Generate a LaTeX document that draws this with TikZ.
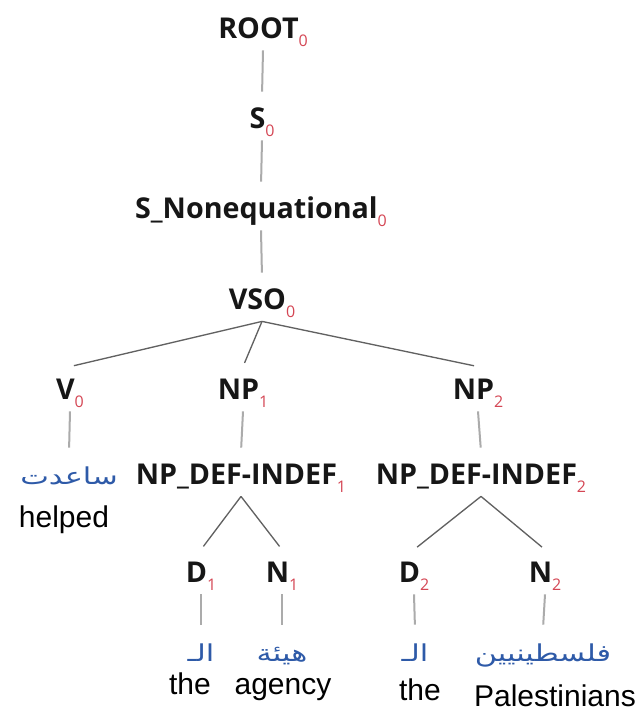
\documentclass[tikz,border=0pt]{standalone}
\usepackage{fontspec}
\setmainfont{Liberation Sans}
\newfontfamily\catfont{Open Sans}
\newfontfamily\arabicfont[Script=Arabic]{DejaVu Sans}
\TeXXeTstate=1
\usetikzlibrary{positioning}
\definecolor{idxred}{RGB}{212,70,84}
\definecolor{arblue}{RGB}{46,90,168}
\definecolor{catblack}{RGB}{22,22,22}
\newcommand{\cat}[2]{{\catfont\bfseries\fontsize{21.5}{25}\selectfont #1}\raisebox{-6pt}{\catfont\fontsize{12}{12}\selectfont\color{idxred}#2}}
\newcommand{\arw}[1]{\scalebox{1.2}[0.92]{\arabicfont\fontsize{19}{22}\selectfont\color{arblue}\beginR #1\endR}}

\begin{document}
\begin{tikzpicture}[x=0.75pt,y=-0.75pt,
  lab/.style={inner xsep=0pt,inner ysep=9pt,text height=15.2pt,text depth=0pt,text=catblack},
  gloss/.style={anchor=base,inner sep=0pt,font=\fontsize{22.5}{26}\selectfont},
  stem/.style={draw=black!33,line width=1.5pt,shorten >=3pt},
  branch/.style={draw=black!62,line width=1pt,shorten >=3pt}
]
\useasboundingbox (0,0) rectangle (639,714);

% spine
\node[lab] (root) at (263,28) {\cat{ROOT}{0}};
\node[lab] (s) at (262,118) {\cat{S}{0}};
\node[lab] (snoneq) at (261,208) {\cat{S\_Nonequational}{0}};
\node[lab] (vso) at (262,299) {\cat{VSO}{0}};

% verb and arguments
\node[lab] (v) at (70,389) {\cat{V}{0}};
\node[lab] (np1) at (243,389) {\cat{NP}{1}};
\node[lab] (np2) at (478,389) {\cat{NP}{2}};
\node[lab] (helpedar) at (69,474) {\arw{ساعدت}};
\node[lab] (npdi1) at (241,474) {\cat{NP\_DEF-INDEF}{1}};
\node[lab] (npdi2) at (481,474) {\cat{NP\_DEF-INDEF}{2}};

% determiners and nouns
\node[lab] (d1) at (201,572) {\cat{D}{1}};
\node[lab] (n1) at (282,572) {\cat{N}{1}};
\node[lab] (d2) at (414,572) {\cat{D}{2}};
\node[lab] (n2) at (545,572) {\cat{N}{2}};
\node[lab] (thear1) at (201,651) {\arw{الـ}};
\node[lab] (agencyar) at (282,651) {\arw{هيئة}};
\node[lab] (thear2) at (415,651) {\arw{الـ}};
\node[lab] (palar) at (543,651) {\arw{فلسطينيين}};

% glosses
\node[gloss] (helped) at (64,527) {helped};
\node[gloss] (the1) at (190,694) {the};
\node[gloss] (agency) at (283,694) {agency};
\node[gloss] (the2) at (420,700) {the};
\node[gloss] (palest) at (555,706) {Palestinians};

\draw[stem] (root.south) -- (s.north);
\draw[stem] (s.south) -- (snoneq.north);
\draw[stem] (snoneq.south) -- (vso.north);
\draw[branch] (vso.south) -- (v.north);
\draw[branch] (vso.south) -- (np1.north);
\draw[branch] (vso.south) -- (np2.north);
\draw[stem] (v.south) -- (helpedar.north);
\draw[stem] (np1.south) -- (npdi1.north);
\draw[stem] (np2.south) -- (npdi2.north);
\draw[branch] (npdi1.south) -- (d1.north);
\draw[branch] (npdi1.south) -- (n1.north);
\draw[branch] (npdi2.south) -- (d2.north);
\draw[branch] (npdi2.south) -- (n2.north);
\draw[stem] (d1.south) -- (thear1.north);
\draw[stem] (n1.south) -- (agencyar.north);
\draw[stem] (d2.south) -- (thear2.north);
\draw[stem] (n2.south) -- (palar.north);
\end{tikzpicture}
\end{document}
